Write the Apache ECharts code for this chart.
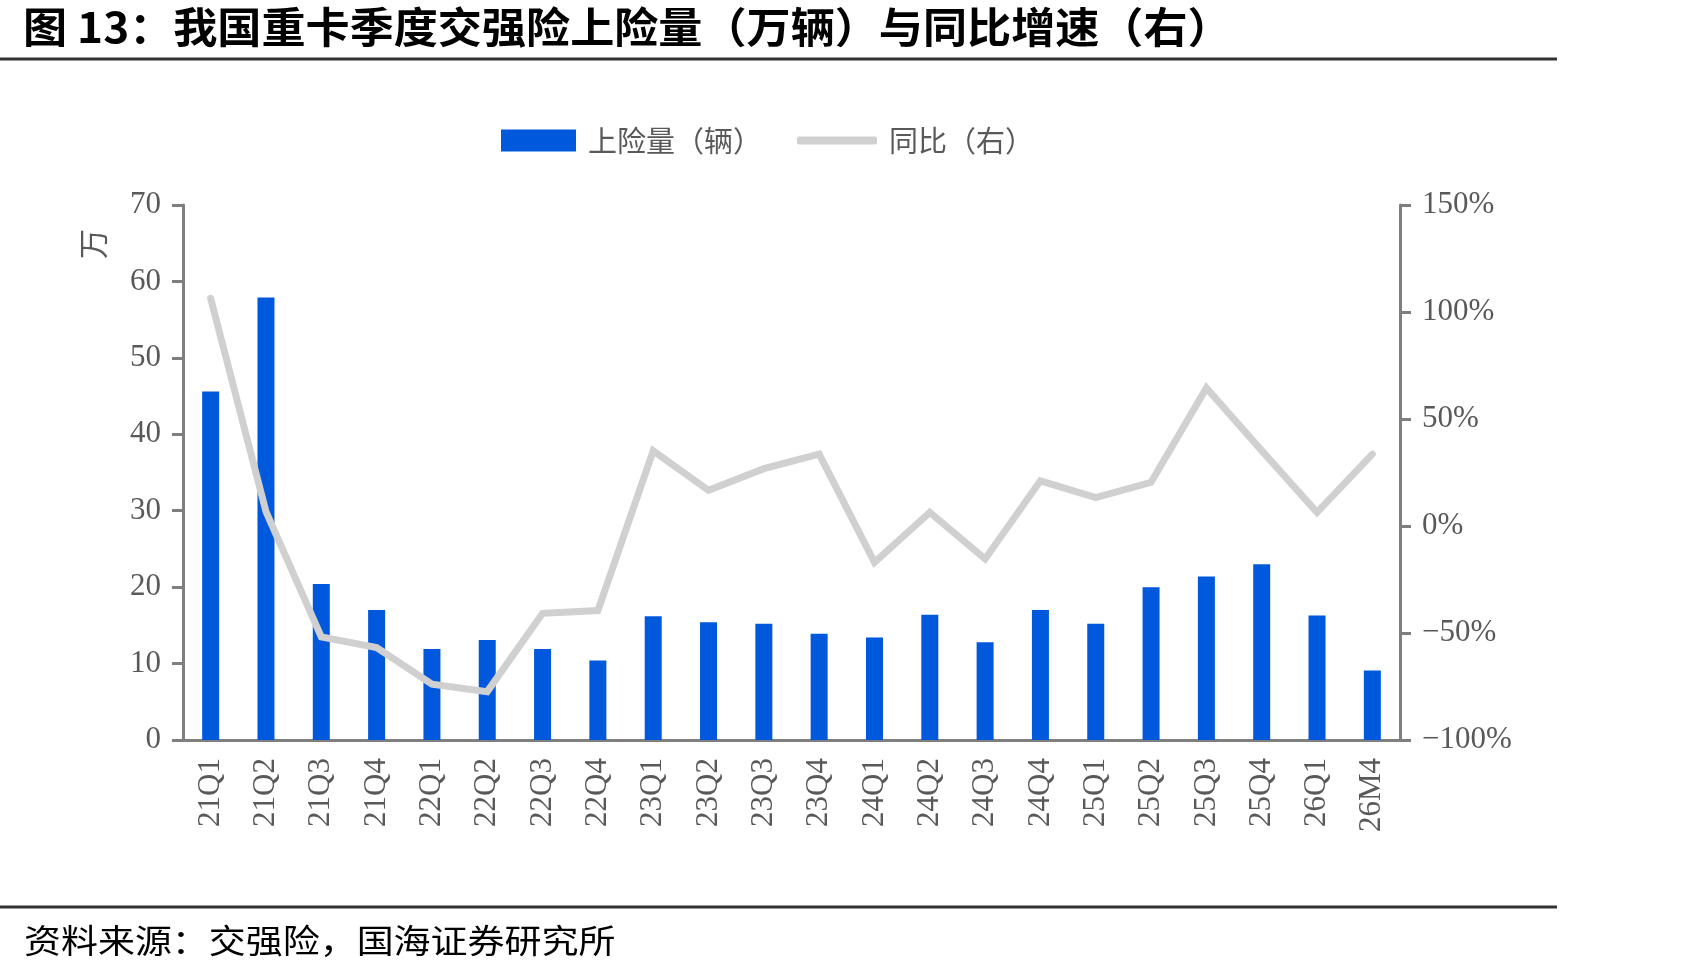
<!DOCTYPE html>
<html>
<head>
<meta charset="utf-8">
<script src="https://cdn.jsdelivr.net/npm/echarts@6/dist/echarts.min.js"></script>
<style>
html,body{margin:0;padding:0;background:#fff;}
#chart{width:1689px;height:975px;}
</style>
</head>
<body>
<div id="chart"></div>
<script>
var categories = ['21Q1','21Q2','21Q3','21Q4','22Q1','22Q2','22Q3','22Q4','23Q1','23Q2','23Q3','23Q4','24Q1','24Q2','24Q3','24Q4','25Q1','25Q2','25Q3','25Q4','26Q1','26M4'];
var volume = [45.6, 57.9, 20.4, 17.0, 11.9, 13.1, 11.9, 10.4, 16.2, 15.4, 15.2, 13.9, 13.4, 16.4, 12.8, 17.0, 15.2, 20.0, 21.4, 23.0, 16.3, 9.1];
var yoy = [106.4, 6.7, -51.8, -56.8, -73.9, -77.4, -40.8, -39.5, 35.1, 16.7, 26.8, 33.6, -17.0, 6.4, -15.4, 21.1, 13.3, 20.4, 64.5, 35.2, 6.4, 33.6];
var seriesNames = ['上险量（辆）', '同比（右）'];
var titleText = '图 13：我国重卡季度交强险上险量（万辆）与同比增速（右）';
var sourceText = '资料来源：交强险，国海证券研究所';
var leftAxisName = '万';

var serif = "'Liberation Serif', 'Times New Roman', serif";
var cjk = "'Noto Sans CJK SC', sans-serif";
var axisGrey = '#7f7f7f';
var labelGrey = '#595959';
var lineGrey = '#d0d0d0';

var chart = echarts.init(document.getElementById('chart'), null, {renderer: 'canvas'});
chart.setOption({
  backgroundColor: '#fff',
  animation: false,
  legend: [
    {
      left: 496, top: 121,
      itemWidth: 75, itemHeight: 22,
      textStyle: {fontFamily: cjk, fontSize: 29, color: labelGrey, padding: [0, 0, 0, 7]},
      data: [{name: seriesNames[0], icon: 'rect'}]
    },
    {
      left: 792, top: 121,
      itemWidth: 80, itemHeight: 8,
      textStyle: {fontFamily: cjk, fontSize: 29, color: labelGrey, padding: [0, 0, 0, 7]},
      data: [{name: seriesNames[1], icon: 'roundRect', itemStyle: {color: lineGrey}}]
    }
  ],
  grid: {left: 183, right: 289, top: 205, bottom: 235, containLabel: false},
  xAxis: {
    type: 'category',
    data: categories,
    axisLine: {lineStyle: {color: axisGrey, width: 3}},
    axisTick: {alignWithLabel: true, length: 8, lineStyle: {color: axisGrey, width: 2}},
    axisLabel: {rotate: 90, margin: 18, fontFamily: serif, fontSize: 31, color: labelGrey, interval: 0}
  },
  yAxis: [
    {
      type: 'value', min: 0, max: 70, interval: 10,
      axisLine: {show: true, lineStyle: {color: axisGrey, width: 3}},
      axisTick: {show: true, length: 11, lineStyle: {color: axisGrey, width: 3}},
      splitLine: {show: false},
      axisLabel: {margin: 22, fontFamily: serif, fontSize: 31, color: labelGrey}
    },
    {
      type: 'value', min: -100, max: 150, interval: 50,
      axisLine: {show: true, lineStyle: {color: axisGrey, width: 3}},
      axisTick: {show: true, length: 11, lineStyle: {color: axisGrey, width: 3}},
      splitLine: {show: false},
      axisLabel: {margin: 22, fontFamily: serif, fontSize: 31, color: labelGrey,
        formatter: function (v) { return String(v).replace('-', '\u2212') + '%'; }}
    }
  ],
  series: [
    {
      name: seriesNames[0], type: 'bar', data: volume, yAxisIndex: 0,
      barWidth: 17, itemStyle: {color: '#0058dc'}, z: 2
    },
    {
      name: seriesNames[1], type: 'line', data: yoy, yAxisIndex: 1,
      symbol: 'none', smooth: false, z: 3,
      lineStyle: {color: lineGrey, width: 7, cap: 'round', join: 'miter'},
      itemStyle: {color: lineGrey}
    }
  ],
  graphic: [
    {type: 'text', x: 23, y: 27, scaleX: 1.05, style: {text: titleText, font: "bold 42px 'Noto Sans CJK SC', sans-serif", fill: '#000', textVerticalAlign: 'middle'}},
    {type: 'line', shape: {x1: 0, y1: 59, x2: 1557, y2: 59}, style: {stroke: '#333', lineWidth: 3}},
    {type: 'line', shape: {x1: 0, y1: 907, x2: 1557, y2: 907}, style: {stroke: '#333', lineWidth: 3}},
    {type: 'text', x: 24, y: 940, scaleX: 1.12, style: {text: sourceText, font: "33px 'Noto Sans CJK SC', sans-serif", fill: '#000', textVerticalAlign: 'middle'}},
    {type: 'text', x: 93, y: 244, rotation: Math.PI / 2, style: {text: leftAxisName, font: "30px 'Noto Sans CJK SC', sans-serif", fill: labelGrey, textAlign: 'center', textVerticalAlign: 'middle'}}
  ]
});
</script>
</body>
</html>
